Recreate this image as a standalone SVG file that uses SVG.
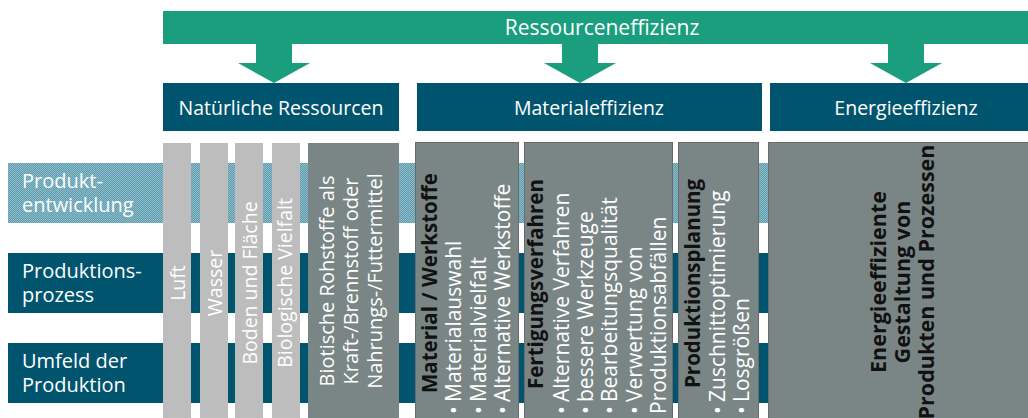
<svg xmlns="http://www.w3.org/2000/svg" width="1028" height="418" viewBox="0 0 1028 418">
<defs>
<pattern id="dither" width="2" height="2" patternUnits="userSpaceOnUse">
<rect width="2" height="2" fill="#5f9cad"/>
<rect width="1" height="1" fill="#8cbcc9"/>
<rect x="1" y="1" width="1" height="1" fill="#8cbcc9"/>
</pattern>
</defs>
<style>
text{font-family:"Open Sans","Noto Sans","DejaVu Sans",sans-serif}
.w{fill:#ffffff}
.k{fill:#111111}
.h{font-size:19.5px}
.t{font-size:21px}
.l{font-size:20px}
.v{font-size:19.5px}
.bt{font-size:20px}
.r{font-size:21px}
.b{font-weight:bold;font-size:20.5px}
.e{font-weight:bold;font-size:21.5px}
.teal{fill:#01546e}
.green{fill:#1a9e7d}
.lg{fill:#bdbdbd}
.dg{fill:#7a8685}
.box{fill:#7a8685;stroke:#6a6a6a;stroke-width:1}
</style>
<g id="rows">
<rect x="8" y="163" width="1020" height="60" fill="url(#dither)"/>
<rect x="8" y="253" width="1020" height="60" class="teal"/>
<rect x="8" y="343" width="1020" height="60" class="teal"/>
<text class="w l" x="22" y="188">Produkt-</text>
<text class="w l" x="22" y="212">entwicklung</text>
<text class="w l" x="22" y="278">Produktions-</text>
<text class="w l" x="22" y="302">prozess</text>
<text class="w l" x="22" y="368">Umfeld der</text>
<text class="w l" x="22" y="392">Produktion</text>
</g>
<g id="ressourceneffizienz">
<rect x="163" y="11" width="865" height="33" class="green"/>
<text class="w t" x="602" y="35" text-anchor="middle">Ressourceneffizienz</text>
</g>
<g id="connectors" class="green">
<polygon points="256,44 292,44 292,63 310,63 274,83 238,63 256,63"/>
<polygon points="562,44 598,44 598,63 616,63 580,83 544,63 562,63"/>
<polygon points="888,44 924,44 924,63 942,63 906,83 870,63 888,63"/>
</g>
<g id="natuerliche">
<rect x="163" y="83" width="236" height="48" class="teal"/>
<text class="w h" x="281" y="115" text-anchor="middle">Natürliche Ressourcen</text>
</g>
<g id="materialeffizienz">
<rect x="417" y="83" width="345" height="48" class="teal"/>
<text class="w h" x="589" y="115" text-anchor="middle">Materialeffizienz</text>
</g>
<g id="energieeffizienz">
<rect x="770" y="83" width="258" height="48" class="teal"/>
<text class="w h" x="906" y="115" text-anchor="middle">Energieeffizienz</text>
</g>
<g id="luft">
<rect x="163" y="143" width="28" height="275" class="lg"/>
<text class="w v" transform="translate(185,283) rotate(-90)" text-anchor="middle">Luft</text>
</g>
<g id="wasser">
<rect x="200" y="143" width="28" height="275" class="lg"/>
<text class="w v" transform="translate(222,283) rotate(-90)" text-anchor="middle">Wasser</text>
</g>
<g id="boden">
<rect x="235" y="143" width="28" height="275" class="lg"/>
<text class="w v" transform="translate(257,283) rotate(-90)" text-anchor="middle">Boden und Fläche</text>
</g>
<g id="vielfalt">
<rect x="272" y="143" width="28" height="275" class="lg"/>
<text class="w v" transform="translate(292,283) rotate(-90)" text-anchor="middle">Biologische Vielfalt</text>
</g>
<g id="biotische">
<rect x="308" y="143" width="91" height="275" class="dg"/>
<g transform="translate(0,281) rotate(-90)" text-anchor="middle" class="w bt">
<text x="0" y="334">Biotische Rohstoffe als</text>
<text x="0" y="358">Kraft-/Brennstoff oder</text>
<text x="0" y="382">Nahrungs-/Futtermittel</text>
</g>
</g>
<g id="werkstoffe">
<rect x="415.5" y="142.5" width="103" height="280" class="box"/>
<g transform="rotate(-90)" class="r">
<text class="k b" x="-393" y="437">Material / Werkstoffe</text>
<text class="w" y="461"><tspan x="-414">•</tspan><tspan x="-402">Materialauswahl</tspan></text>
<text class="w" y="486"><tspan x="-414">•</tspan><tspan x="-402">Materialvielfalt</tspan></text>
<text class="w" y="510"><tspan x="-414">•</tspan><tspan x="-402">Alternative Werkstoffe</tspan></text>
</g>
</g>
<g id="fertigung">
<rect x="524.5" y="142.5" width="148" height="280" class="box"/>
<g transform="rotate(-90)" class="r">
<text class="k b" x="-389" y="543">Fertigungsverfahren</text>
<text class="w" y="569"><tspan x="-414">•</tspan><tspan x="-402">Alternative Verfahren</tspan></text>
<text class="w" y="593"><tspan x="-414">•</tspan><tspan x="-402">bessere Werkzeuge</tspan></text>
<text class="w" y="617"><tspan x="-414">•</tspan><tspan x="-402">Bearbeitungsqualität</tspan></text>
<text class="w" y="642"><tspan x="-414">•</tspan><tspan x="-402">Verwertung von</tspan></text>
<text class="w" x="-414" y="666">Produktionsabfällen</text>
</g>
</g>
<g id="planung">
<rect x="678.5" y="142.5" width="80" height="280" class="box"/>
<g transform="rotate(-90)" class="r">
<text class="k b" x="-388" y="700">Produktionsplanung</text>
<text class="w" y="725"><tspan x="-414">•</tspan><tspan x="-402">Zuschnittoptimierung</tspan></text>
<text class="w" y="749"><tspan x="-414">•</tspan><tspan x="-402">Losgrößen</tspan></text>
</g>
</g>
<g id="energie">
<rect x="768.5" y="142.5" width="262" height="280" class="box"/>
<g transform="translate(0,282) rotate(-90)" text-anchor="middle" class="k e">
<text x="0" y="886">Energieeffiziente</text>
<text x="0" y="910">Gestaltung von</text>
<text x="0" y="934">Produkten und Prozessen</text>
</g>
</g>
</svg>
